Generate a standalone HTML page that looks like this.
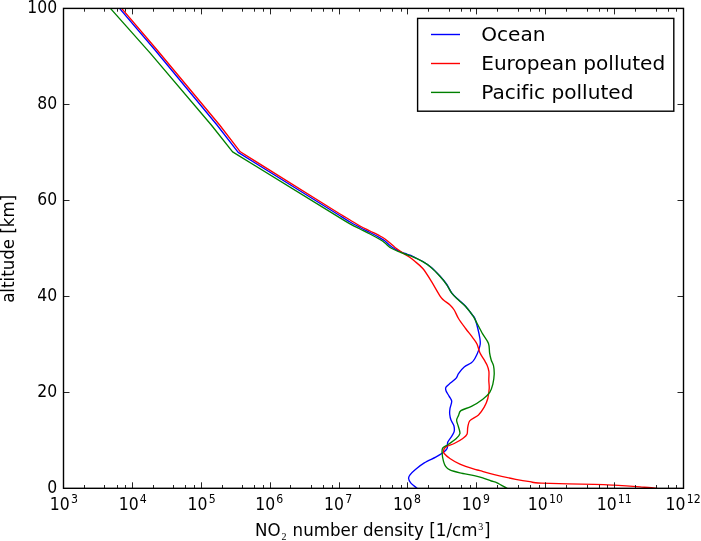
<!DOCTYPE html><html><head><meta charset="utf-8"><title>NO2 number density</title>
<style>html,body{margin:0;padding:0;background:#fff}svg{display:block}text{font-family:"DejaVu Sans","Liberation Sans",sans-serif;fill:#000;font-variant-ligatures:none;font-feature-settings:"liga" 0,"clig" 0}.s{font-family:"Liberation Serif","DejaVu Serif",serif}</style></head><body>
<svg width="701" height="541" viewBox="0 0 701 541">
<rect width="701" height="541" fill="#fff"/>
<defs><clipPath id="c"><rect x="63.5" y="8.4" width="620.0" height="479.9"/></clipPath></defs>
<g clip-path="url(#c)" fill="none" stroke-width="1.35" stroke-linejoin="round">
<path d="M119.5 8.4 L155.0 50.0 L217.0 125.0 L238.2 152.4 L340.0 215.8 C341.6 216.8 346.8 220.1 350.0 222.0 C353.2 223.9 356.8 225.8 360.0 227.5 C363.2 229.2 366.8 230.9 370.0 232.5 C373.2 234.1 377.6 236.4 380.0 237.8 C382.4 239.2 383.4 239.8 385.0 241.0 C386.6 242.2 388.4 244.2 390.0 245.5 C391.6 246.8 393.4 248.0 395.0 249.0 C396.6 250.0 398.4 250.8 400.0 251.5 C401.6 252.2 403.4 252.9 405.0 253.5 C406.6 254.1 408.5 254.6 410.0 255.2 C411.5 255.8 412.2 256.2 414.2 257.2 C416.2 258.2 420.0 259.9 422.8 261.5 C425.6 263.1 428.7 265.2 431.4 267.5 C434.1 269.8 437.4 273.3 439.9 276.0 C442.4 278.7 444.9 281.7 446.8 284.5 C448.7 287.3 450.0 290.7 451.9 293.2 C453.8 295.7 456.6 297.9 458.8 300.0 C461.0 302.1 463.5 304.0 465.6 306.3 C467.7 308.6 470.5 312.5 472.0 314.5 C473.5 316.5 474.0 316.3 474.9 318.5 C475.8 320.7 477.0 325.3 477.8 328.5 C478.6 331.7 479.5 336.0 479.9 338.5 C480.3 341.0 480.4 342.3 480.2 344.2 C480.0 346.1 479.3 348.3 478.5 350.6 C477.7 352.9 476.0 356.5 474.9 358.5 C473.8 360.5 473.1 361.4 471.4 362.8 C469.7 364.2 466.3 365.3 464.2 367.0 C462.1 368.7 459.7 371.9 458.5 373.6 C457.3 375.3 457.6 376.3 456.4 377.8 C455.2 379.3 452.4 381.3 450.7 382.8 C449.0 384.3 446.8 385.8 446.0 387.1 C445.2 388.4 445.5 389.2 446.0 390.7 C446.5 392.2 448.3 394.7 449.2 396.4 C450.1 398.1 451.6 399.5 451.7 401.4 C451.8 403.3 450.3 406.5 450.0 408.5 C449.7 410.5 449.5 412.4 449.7 414.2 C449.9 416.0 450.3 418.2 451.0 420.0 C451.7 421.8 453.4 423.9 453.9 425.7 C454.4 427.5 454.5 429.8 454.2 431.4 C453.9 433.0 453.1 434.0 452.1 435.7 C451.1 437.4 448.6 440.1 447.8 442.1 C447.0 444.1 447.9 446.8 447.1 448.5 C446.3 450.2 444.6 451.4 442.8 452.8 C441.0 454.2 438.7 455.5 435.7 457.1 C432.7 458.7 427.5 460.9 424.3 462.8 C421.1 464.7 418.0 467.3 415.7 469.2 C413.4 471.1 411.1 473.4 410.0 474.9 C408.9 476.4 408.5 477.2 408.6 478.5 C408.7 479.8 409.5 481.3 410.7 482.8 C411.9 484.3 415.4 486.9 416.4 487.8 C417.4 488.7 417.0 488.3 417.1 488.4" stroke="#0000ff"/>
<path d="M121.6 8.4 L157.1 50.0 L219.6 125.0 L240.3 151.8 L340.0 214.0 C341.6 215.0 346.8 218.1 350.0 220.0 C353.2 221.9 356.8 224.2 360.0 226.0 C363.2 227.8 366.8 229.4 370.0 231.0 C373.2 232.6 377.6 234.7 380.0 236.0 C382.4 237.3 383.4 237.9 385.0 239.0 C386.6 240.1 388.4 241.6 390.0 243.0 C391.6 244.4 393.4 246.2 395.0 247.5 C396.6 248.8 398.4 249.9 400.0 251.0 C401.6 252.1 403.4 253.5 405.0 254.5 C406.6 255.5 408.5 256.5 410.0 257.5 C411.5 258.5 412.2 259.0 414.2 260.8 C416.2 262.6 420.0 265.2 422.8 268.5 C425.6 271.8 428.7 277.0 431.4 281.4 C434.1 285.8 438.0 292.9 439.9 295.9 C441.8 298.9 441.9 298.5 443.5 300.0 C445.1 301.5 448.3 303.4 450.0 305.0 C451.7 306.6 452.8 307.8 454.2 310.0 C455.6 312.2 456.7 315.5 458.5 318.5 C460.3 321.5 463.3 325.4 465.6 328.5 C467.9 331.6 471.0 335.3 472.8 337.8 C474.6 340.3 476.0 341.8 477.1 344.2 C478.2 346.6 478.8 350.3 479.9 352.8 C481.0 355.3 483.1 357.9 484.2 359.9 C485.3 361.9 486.2 363.2 487.0 365.0 C487.8 366.8 488.6 369.0 488.9 371.4 C489.2 373.8 488.8 377.3 488.8 380.0 C488.8 382.7 489.4 385.5 489.2 388.5 C489.0 391.5 488.6 395.5 487.8 398.5 C487.0 401.5 485.7 404.5 484.2 407.1 C482.7 409.7 480.8 412.7 478.5 414.9 C476.2 417.1 471.6 418.7 469.9 420.6 C468.2 422.5 468.3 424.8 467.8 427.0 C467.3 429.2 467.8 432.5 467.0 434.3 C466.2 436.1 464.8 437.0 462.8 438.5 C460.8 440.0 457.0 442.1 454.2 443.5 C451.4 444.9 447.3 445.9 445.6 447.1 C443.9 448.3 443.7 449.7 443.5 450.7 C443.3 451.7 443.2 452.3 444.2 453.5 C445.2 454.7 447.4 456.8 449.9 458.5 C452.4 460.2 456.0 462.5 459.9 464.2 C463.8 465.9 471.0 468.2 474.2 469.2 C477.4 470.2 476.8 469.8 480.0 470.7 C483.2 471.6 488.6 473.3 494.3 474.7 C500.0 476.1 510.0 478.2 515.7 479.3 C521.4 480.4 525.8 481.1 529.9 481.7 C534.0 482.3 531.0 482.7 541.3 483.1 C551.6 483.5 582.5 484.1 594.1 484.4 C605.7 484.7 606.8 484.8 614.1 485.2 C621.4 485.6 633.5 486.4 640.0 486.9 C646.5 487.4 652.1 487.8 655.0 488.1 C657.9 488.4 657.5 488.5 658.0 488.6" stroke="#ff0000"/>
<path d="M110.4 8.4 L150.0 52.9 L211.3 125.0 L232.6 151.8 L340.0 217.8 C341.6 218.8 346.8 222.0 350.0 223.8 C353.2 225.6 356.8 227.4 360.0 229.0 C363.2 230.6 366.8 232.3 370.0 234.0 C373.2 235.7 377.6 238.1 380.0 239.5 C382.4 240.9 383.4 241.7 385.0 243.0 C386.6 244.3 388.4 246.4 390.0 247.5 C391.6 248.6 393.4 249.2 395.0 250.0 C396.6 250.8 398.4 251.6 400.0 252.2 C401.6 252.8 403.4 253.4 405.0 254.0 C406.6 254.6 408.5 255.3 410.0 255.8 C411.5 256.3 412.2 256.5 414.2 257.4 C416.2 258.3 420.0 260.1 422.8 261.7 C425.6 263.3 428.7 265.4 431.4 267.7 C434.1 270.0 437.4 273.5 439.9 276.2 C442.4 278.9 444.9 282.0 446.8 284.8 C448.7 287.6 450.0 290.9 451.9 293.4 C453.8 295.9 456.6 298.1 458.8 300.2 C461.0 302.3 463.4 304.0 465.6 306.5 C467.8 309.0 471.0 313.0 472.8 315.7 C474.6 318.4 475.5 320.5 477.1 323.5 C478.7 326.5 481.0 331.0 482.8 334.2 C484.6 337.4 487.4 340.5 488.5 343.5 C489.6 346.5 489.2 350.2 489.6 352.8 C490.0 355.4 490.6 357.9 491.2 360.0 C491.8 362.1 493.0 363.4 493.5 365.7 C494.0 368.0 494.3 371.3 494.2 374.3 C494.1 377.3 493.5 381.5 492.8 384.3 C492.1 387.1 491.5 389.7 489.9 392.1 C488.3 394.5 485.8 396.9 482.8 399.2 C479.8 401.5 474.9 404.6 471.4 406.4 C467.9 408.2 463.0 409.1 460.9 410.6 C458.8 412.1 459.2 414.0 458.5 415.6 C457.8 417.2 456.6 418.5 456.6 420.3 C456.6 422.1 458.0 424.9 458.5 427.0 C459.0 429.1 460.3 431.8 459.9 433.6 C459.5 435.4 458.1 436.8 456.3 438.5 C454.5 440.2 450.7 442.8 448.5 444.3 C446.3 445.8 443.8 446.4 442.8 447.8 C441.8 449.2 442.0 450.6 442.1 452.8 C442.2 455.0 442.9 459.2 443.5 461.4 C444.1 463.6 444.6 465.0 445.6 466.4 C446.6 467.8 447.6 468.9 449.9 469.9 C452.2 470.9 456.0 471.9 459.9 472.8 C463.8 473.7 470.6 474.8 474.2 475.6 C477.8 476.4 480.0 476.9 482.7 477.8 C485.4 478.7 489.0 480.2 491.3 481.0 C493.6 481.8 494.8 481.7 497.1 482.8 C499.4 483.9 504.1 486.7 505.7 487.6 C507.3 488.5 506.8 488.3 507.0 488.4" stroke="#008000"/>
</g>
<path d="M84.50 488.30v-3.3 M84.50 8.40v3.3 M104.50 488.30v-3.3 M104.50 8.40v3.3 M117.50 488.30v-3.3 M117.50 8.40v3.3 M125.50 488.30v-3.3 M125.50 8.40v3.3 M132.50 488.30v-6.0 M132.50 8.40v6.0 M153.50 488.30v-3.3 M153.50 8.40v3.3 M173.50 488.30v-3.3 M173.50 8.40v3.3 M185.50 488.30v-3.3 M185.50 8.40v3.3 M194.50 488.30v-3.3 M194.50 8.40v3.3 M201.50 488.30v-6.0 M201.50 8.40v6.0 M222.50 488.30v-3.3 M222.50 8.40v3.3 M242.50 488.30v-3.3 M242.50 8.40v3.3 M254.50 488.30v-3.3 M254.50 8.40v3.3 M263.50 488.30v-3.3 M263.50 8.40v3.3 M270.50 488.30v-6.0 M270.50 8.40v6.0 M290.50 488.30v-3.3 M290.50 8.40v3.3 M311.50 488.30v-3.3 M311.50 8.40v3.3 M323.50 488.30v-3.3 M323.50 8.40v3.3 M332.50 488.30v-3.3 M332.50 8.40v3.3 M339.50 488.30v-6.0 M339.50 8.40v6.0 M359.50 488.30v-3.3 M359.50 8.40v3.3 M380.50 488.30v-3.3 M380.50 8.40v3.3 M392.50 488.30v-3.3 M392.50 8.40v3.3 M401.50 488.30v-3.3 M401.50 8.40v3.3 M407.50 488.30v-6.0 M407.50 8.40v6.0 M428.50 488.30v-3.3 M428.50 8.40v3.3 M449.50 488.30v-3.3 M449.50 8.40v3.3 M461.50 488.30v-3.3 M461.50 8.40v3.3 M470.50 488.30v-3.3 M470.50 8.40v3.3 M476.50 488.30v-6.0 M476.50 8.40v6.0 M497.50 488.30v-3.3 M497.50 8.40v3.3 M518.50 488.30v-3.3 M518.50 8.40v3.3 M530.50 488.30v-3.3 M530.50 8.40v3.3 M539.50 488.30v-3.3 M539.50 8.40v3.3 M545.50 488.30v-6.0 M545.50 8.40v6.0 M566.50 488.30v-3.3 M566.50 8.40v3.3 M587.50 488.30v-3.3 M587.50 8.40v3.3 M599.50 488.30v-3.3 M599.50 8.40v3.3 M607.50 488.30v-3.3 M607.50 8.40v3.3 M614.50 488.30v-6.0 M614.50 8.40v6.0 M635.50 488.30v-3.3 M635.50 8.40v3.3 M656.50 488.30v-3.3 M656.50 8.40v3.3 M668.50 488.30v-3.3 M668.50 8.40v3.3 M676.50 488.30v-3.3 M676.50 8.40v3.3 M63.50 392.50h6.0 M683.50 392.50h-6.0 M63.50 296.50h6.0 M683.50 296.50h-6.0 M63.50 200.50h6.0 M683.50 200.50h-6.0 M63.50 104.50h6.0 M683.50 104.50h-6.0" stroke="#000" stroke-opacity="0.85" stroke-width="1" fill="none"/>
<rect x="63.5" y="8.4" width="620.0" height="479.9" fill="none" stroke="#000" stroke-width="1.4"/>
<text transform="translate(57.2 492.7) scale(0.94 1.075)" font-size="16.67" text-anchor="end">0</text>
<text transform="translate(57.2 396.7) scale(0.94 1.075)" font-size="16.67" text-anchor="end">20</text>
<text transform="translate(57.2 300.7) scale(0.94 1.075)" font-size="16.67" text-anchor="end">40</text>
<text transform="translate(57.2 204.8) scale(0.94 1.075)" font-size="16.67" text-anchor="end">60</text>
<text transform="translate(57.2 108.8) scale(0.94 1.075)" font-size="16.67" text-anchor="end">80</text>
<text transform="translate(57.2 12.8) scale(0.94 1.075)" font-size="16.67" text-anchor="end">100</text>
<text transform="translate(49.8 510.2) scale(0.94 1.075)" font-size="16.67">10<tspan font-size="11.67" dx="1.3" dy="-6.7">3</tspan></text>
<text transform="translate(118.7 510.2) scale(0.94 1.075)" font-size="16.67">10<tspan font-size="11.67" dx="1.3" dy="-6.7">4</tspan></text>
<text transform="translate(187.6 510.2) scale(0.94 1.075)" font-size="16.67">10<tspan font-size="11.67" dx="1.3" dy="-6.7">5</tspan></text>
<text transform="translate(255.2 510.2) scale(0.94 1.075)" font-size="16.67">10<tspan font-size="11.67" dx="1.3" dy="-6.7">6</tspan></text>
<text transform="translate(324.1 510.2) scale(0.94 1.075)" font-size="16.67">10<tspan font-size="11.67" dx="1.3" dy="-6.7">7</tspan></text>
<text transform="translate(392.9 510.2) scale(0.94 1.075)" font-size="16.67">10<tspan font-size="11.67" dx="1.3" dy="-6.7">8</tspan></text>
<text transform="translate(461.8 510.2) scale(0.94 1.075)" font-size="16.67">10<tspan font-size="11.67" dx="1.3" dy="-6.7">9</tspan></text>
<text transform="translate(527.8 510.2) scale(0.94 1.075)" font-size="16.67">10<tspan font-size="11.67" dx="1.3" dy="-6.7">10</tspan></text>
<text transform="translate(596.7 510.2) scale(0.94 1.075)" font-size="16.67">10<tspan font-size="11.67" dx="1.3" dy="-6.7">11</tspan></text>
<text transform="translate(665.6 510.2) scale(0.94 1.075)" font-size="16.67">10<tspan font-size="11.67" dx="1.3" dy="-6.7">12</tspan></text>
<text transform="translate(255.1 536.4) scale(1 1.075)" font-size="16.67">NO<tspan class="s" font-size="10" dy="3.4" dx="0.8">2</tspan><tspan dy="-3.4" dx="0.8"> number density [1/cm</tspan><tspan class="s" font-size="10" dy="-5.6" dx="0.8">3</tspan><tspan dy="5.6" dx="0.8">]</tspan></text>
<text transform="translate(13.5 248.8) rotate(-90) scale(1 1.075)" font-size="16.67" text-anchor="middle">altitude [km]</text>
<rect x="417.6" y="18.4" width="256.2" height="92.8" fill="#fff" stroke="#000" stroke-width="1.4"/>
<path d="M431 34.5H460" stroke="#0000ff" stroke-width="1.4"/>
<text x="481.2" y="41.2" font-size="20.1">Ocean</text>
<path d="M431 63.5H460" stroke="#ff0000" stroke-width="1.4"/>
<text x="481.2" y="70.2" font-size="20.1">European polluted</text>
<path d="M431 92.4H460" stroke="#008000" stroke-width="1.4"/>
<text x="481.2" y="99.1" font-size="20.1">Pacific polluted</text>
</svg></body></html>
